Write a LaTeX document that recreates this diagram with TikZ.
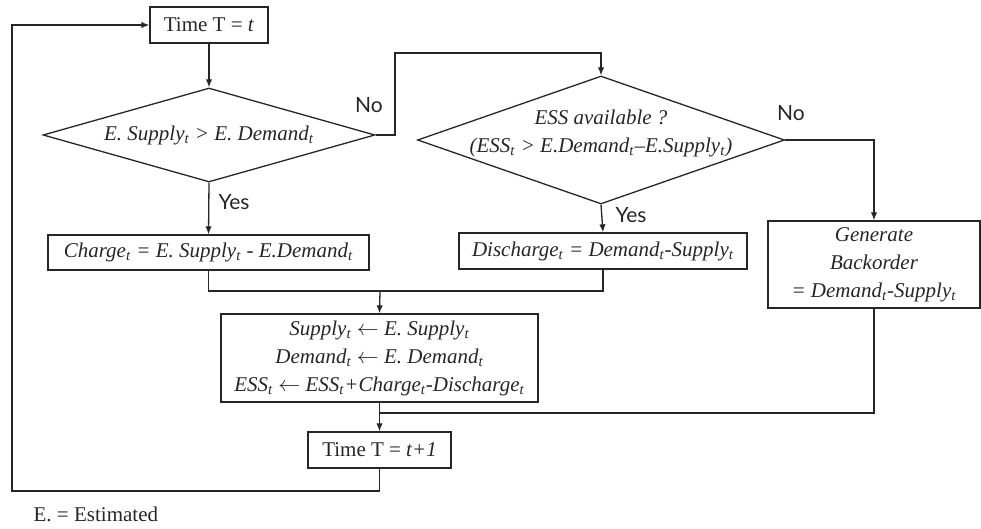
\documentclass[tikz,border=0pt]{standalone}
\usepackage{fontspec}
\setmainfont{Liberation Serif}
\newfontfamily\yesnofont{Lato}
\usetikzlibrary{shapes.geometric,arrows.meta}
\newcommand\tx{\fontsize{10.5}{14}\selectfont}
\newcommand\sbt{\textsubscript{t}}
\tikzset{every path/.style={black!85,line width=0.65pt},
  box/.style={draw,rectangle,inner sep=0pt,align=center,font=\tx\itshape},
  timebox/.style={box,font=\tx},
  decision/.style={draw,diamond,inner sep=0pt},
  dtext/.style={inner sep=0pt,align=center,font=\tx\itshape},
  arr/.style={-{Latex[length=4pt,width=3.2pt]}},
  yn/.style={font=\tx\yesnofont,inner sep=0pt}}

\begin{document}
\begin{tikzpicture}[x=0.5pt,y=-0.5pt]
  \useasboundingbox (0,0) rectangle (981,529);
   \node[timebox,minimum width=59pt,minimum height=18pt] (time) at (209,25) {Time T = \textit{t}};
   \node[decision,minimum width=166pt,minimum height=47pt] (d1) at (209,135) {};
   \node[dtext] (d1txt) at (209,135) {E. Supply\sbt{} > E. Demand\sbt};
   \node[decision,minimum width=183.5pt,minimum height=64pt] (d2) at (601,140) {};
   \node[dtext] (d2txt) at (601,133) {ESS available ?\\(ESS\sbt{} > E.Demand\sbt--E.Supply\sbt)};
   \node[box,minimum width=160.5pt,minimum height=17.5pt] (charge) at (208.5,252.5) {Charge\sbt{} = E. Supply\sbt{} - E.Demand\sbt};
   \node[box,minimum width=144pt,minimum height=18pt] (discharge) at (603,251) {Discharge\sbt{} = Demand\sbt-Supply\sbt};
   \node[box,minimum width=106pt,minimum height=43.5pt] (gen) at (874,264.5) {Generate\\Backorder\\= Demand\sbt-Supply\sbt};
   \node[box,minimum width=158.5pt,minimum height=44pt] (update) at (379.5,358) {Supply\sbt{} $\leftarrow$ E. Supply\sbt\\Demand\sbt{} $\leftarrow$ E. Demand\sbt\\ESS\sbt{} $\leftarrow$ ESS\sbt+Charge\sbt-Discharge\sbt};
   \node[timebox,minimum width=71.5pt,minimum height=18pt] (time1) at (379.5,450) {Time T = \textit{t+1}};
   \node[yn] (yes1) at (234,202) {Yes};
   \node[yn] (no1) at (369,105) {No};
   \node[yn] (no2) at (791,113) {No};
   \node[yn] (yes2) at (631,215) {Yes};
   \node[anchor=west,inner sep=0pt,font=\tx] (note) at (33,514) {E. = Estimated};
   \coordinate (nobend) at (395,53);
   \coordinate (join) at (380,291);
   \coordinate (join2) at (380,413);
   \coordinate (loop) at (12,491);
   \draw[arr] (time) -- (d1);
   \draw[arr] (d1.east) -| (nobend) -| (d2.north);
   \draw[arr] (d1.south) -- (charge.north);
   \draw[arr] (d2.south) -- (discharge.north);
   \draw[arr] (d2.east) -| (gen.north);
   \draw (charge.south) -- (charge.south |- join) -- (discharge.south |- join) -- (discharge.south);
   \draw[arr] (join) -- (update.north);
   \draw[arr] (update.south) -- (time1.north);
   \draw (gen.south) |- (join2);
   \draw[arr] (time1.south) |- (loop) |- (time.west);
\end{tikzpicture}
\end{document}
